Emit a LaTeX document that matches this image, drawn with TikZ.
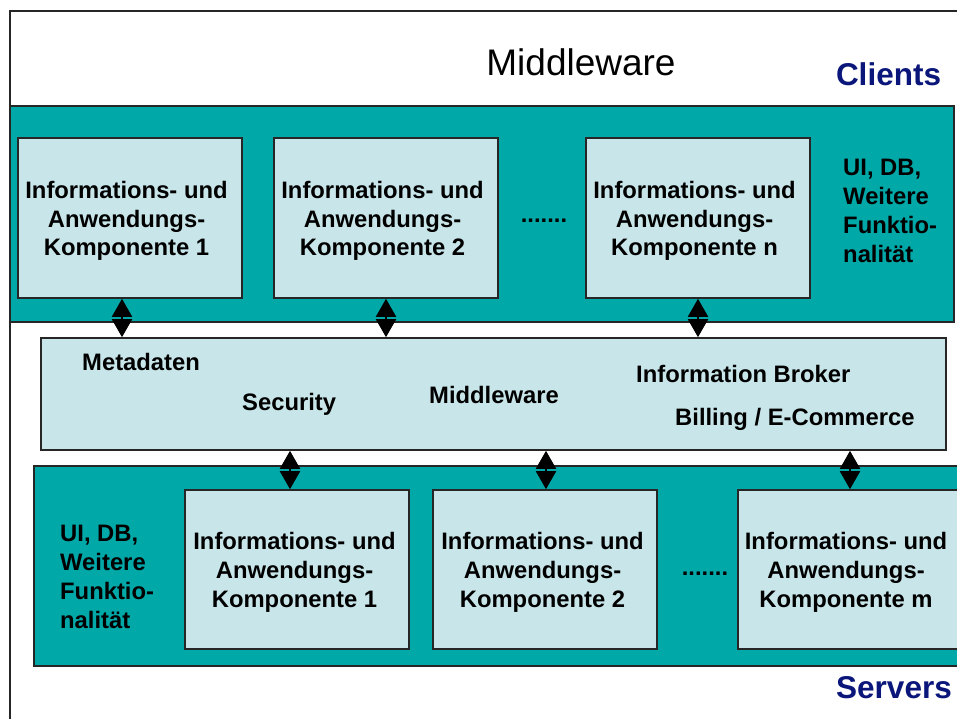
\documentclass[tikz,border=0pt]{standalone}
\usepackage{fontspec}
\setmainfont{Liberation Sans}
\usetikzlibrary{arrows.meta}
\definecolor{teal1}{RGB}{0,168,168}
\definecolor{lightbox}{RGB}{200,230,234}
\definecolor{navy1}{RGB}{10,22,122}
\tikzset{
  band/.style={draw=black!85, line width=1.6pt, fill=teal1, inner sep=0pt},
  cbox/.style={draw=black!85, line width=1.6pt, fill=lightbox, inner sep=0pt,
    minimum width=224pt, minimum height=160pt},
  lbl/.style={font=\fontsize{23.8}{28.7}\selectfont\bfseries, align=center, inner sep=0pt},
  lbll/.style={font=\fontsize{23.8}{29}\selectfont\bfseries, align=left, inner sep=0pt},
  dots/.style={font=\fontsize{23.8}{28.5}\selectfont\bfseries, inner sep=0pt},
  dbl/.style={line width=2pt, {Triangle[length=18pt,width=20pt]}-{Triangle[length=18pt,width=20pt]}},
  side/.style={font=\fontsize{31.5}{36}\selectfont\bfseries, text=navy1, inner sep=0pt}
}
\begin{document}
\begin{tikzpicture}[x=1pt,y=-1pt]
\useasboundingbox (0,0) rectangle (957,719);
\fill[white] (0,0) rectangle (957,719);
% outer frame
\draw[line width=2pt, black!85] (10,740) -- (10,11) -- (980,11);
% title
\node[font=\fontsize{37}{40}\selectfont, inner sep=0pt] (title) at (581,62) {Middleware};
\node[side] (clients) at (888.5,74) {Clients};
\node[side] (servers) at (894,688) {Servers};
% clients band
\node[band, minimum width=944pt, minimum height=216pt] (cl) at (482,214) {};
\node[cbox] (c1) at (130,218) {};
\node[cbox] (c2) at (386,218) {};
\node[cbox] (c3) at (698,218) {};
\node[lbl] (c1t) at ([xshift=-3.5pt,yshift=-3pt]c1.center) {Informations- und\\Anwendungs-\\Komponente 1};
\node[lbl] (c2t) at ([xshift=-3.5pt,yshift=-3pt]c2.center) {Informations- und\\Anwendungs-\\Komponente 2};
\node[lbl] (c3t) at ([xshift=-3.5pt,yshift=-3pt]c3.center) {Informations- und\\Anwendungs-\\Komponente n};
\node[dots] (cdots) at (544,221) {.......};
\node[lbll, anchor=north west] (cside) at (843,159) {UI, DB,\\Weitere\\Funktio-\\nalität};
% middleware box
\node[cbox, minimum width=905pt, minimum height=112pt] (mw) at (493.5,394) {};
\node[lbl, anchor=west] (meta) at (82,362) {Metadaten};
\node[lbl, anchor=west] (sec) at (242,404) {Security};
\node[lbl, anchor=west] (mid) at (429,395) {Middleware};
\node[lbl, anchor=west] (ib) at (636,374) {Information Broker};
\node[lbl, anchor=west] (bill) at (675,419) {Billing / E-Commerce};
% servers band
\node[band, minimum width=936pt, minimum height=200pt] (sv) at (502,566) {};
\node[cbox, minimum height=159pt] (s1) at (297,569.5) {};
\node[cbox, minimum height=159pt] (s2) at (545,569.5) {};
\node[cbox, minimum height=159pt] (s3) at (850,569.5) {};
\node[lbl] (s1t) at ([xshift=-2.5pt,yshift=-3pt]s1.center) {Informations- und\\Anwendungs-\\Komponente 1};
\node[lbl] (s2t) at ([xshift=-2.5pt,yshift=-3pt]s2.center) {Informations- und\\Anwendungs-\\Komponente 2};
\node[lbl] (s3t) at (846,572.5) {Informations- und\\Anwendungs-\\Komponente m};
\node[dots] (sdots) at (705,574) {.......};
\node[lbll, anchor=north west] (sside) at (60,525) {UI, DB,\\Weitere\\Funktio-\\nalität};
% arrows
\draw[dbl] ([xshift=-8pt]c1.south) -- ([xshift=-8pt]c1.south |- mw.north);
\draw[dbl] (c2.south) -- (c2.south |- mw.north);
\draw[dbl] (c3.south) -- (c3.south |- mw.north);
\draw[dbl] ([xshift=-7pt]s1.north |- mw.south) -- ([xshift=-7pt]s1.north);
\draw[dbl] ([xshift=1pt]s2.north |- mw.south) -- ([xshift=1pt]s2.north);
\draw[dbl] (s3.north |- mw.south) -- (s3.north);
\end{tikzpicture}
\end{document}
